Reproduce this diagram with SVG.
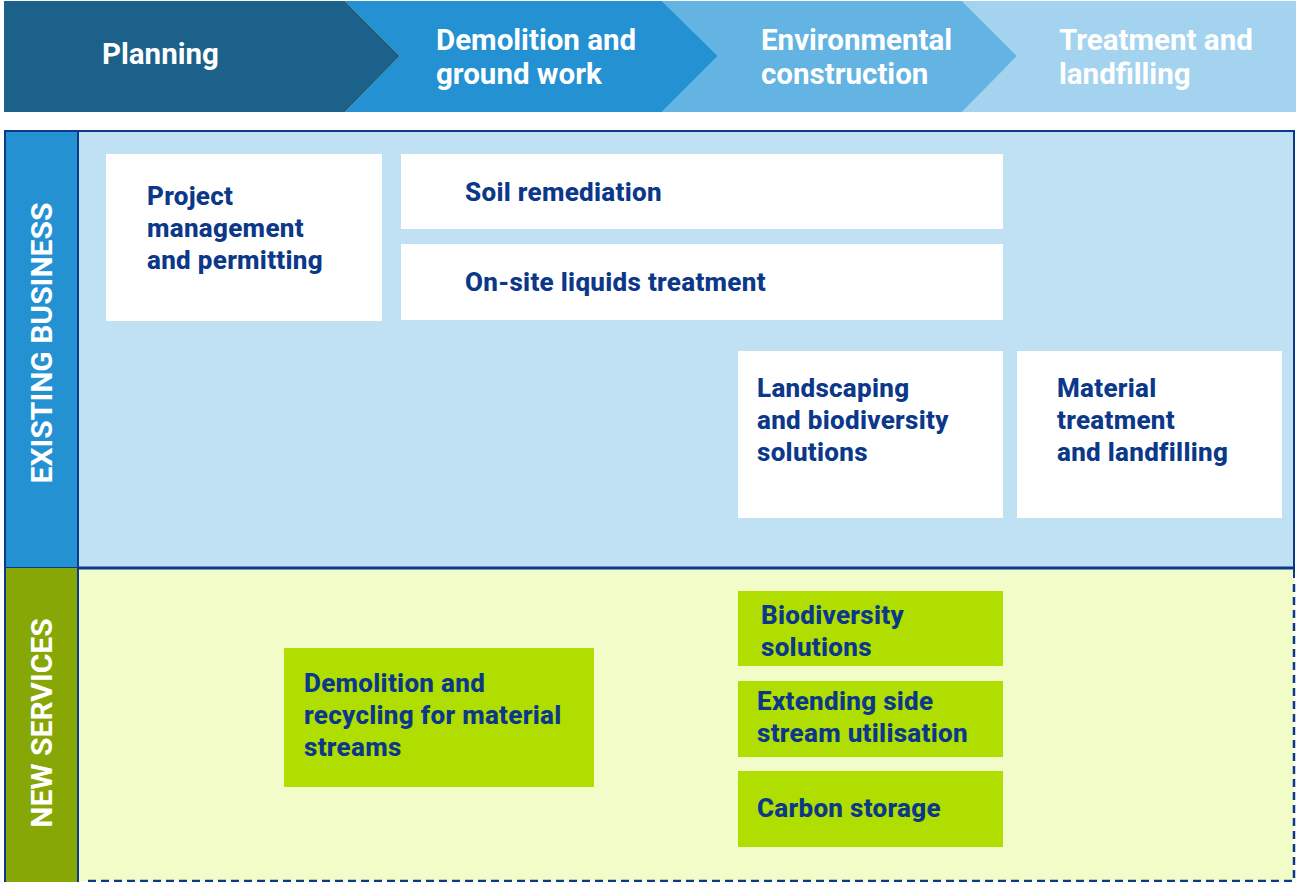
<svg xmlns="http://www.w3.org/2000/svg" width="1296" height="882" viewBox="0 0 1296 882">
<style>
.hd{font-family:Roboto,"Liberation Sans",sans-serif;font-weight:700;font-size:29.5px;fill:#ffffff}
.lb{font-family:Roboto,"Liberation Sans",sans-serif;font-weight:700;font-size:30px;fill:#ffffff}
.tx{font-family:Roboto,"Liberation Sans",sans-serif;font-weight:800;font-size:26px;letter-spacing:0.3px;fill:#0b3889}
.wb{fill:#ffffff}
.gb{fill:#b0de00}
</style>
<rect width="1296" height="882" fill="#ffffff"/>
<g id="header">
<polygon points="962,1 1296,1 1296,112 962,112 1017,56" fill="#a3d3ef"/>
<polygon points="662,1 962,1 1017,56 962,112 662,112 718,56" fill="#63b4e3"/>
<polygon points="345,1 662,1 718,56 662,112 345,112 400,56" fill="#2391d2"/>
<polygon points="4,1 345,1 400,56 345,112 4,112" fill="#1b618a"/>
<text class="hd" x="102" y="64">Planning</text>
<text class="hd" x="436" y="50">Demolition and</text>
<text class="hd" x="436" y="84">ground work</text>
<text class="hd" x="761" y="50">Environmental</text>
<text class="hd" x="761" y="84">construction</text>
<text class="hd" x="1059" y="50">Treatment and</text>
<text class="hd" x="1059" y="84">landfilling</text>
</g>
<g id="row-existing">
<rect x="78" y="131" width="1216" height="437" fill="#c0e0f4" stroke="#0b3a8a" stroke-width="2"/>
<rect x="5" y="131" width="73" height="437" fill="#2391d2" stroke="#0b3a8a" stroke-width="2"/>
<text class="lb" transform="translate(52,343) rotate(-90)" text-anchor="middle">EXISTING BUSINESS</text>
</g>
<g id="row-new">
<rect x="78" y="568" width="1216" height="313" fill="#f2fcc8"/>
<path d="M1294,568 V578" stroke="#0b3a8a" stroke-width="2"/>
<path d="M1294,584 V881 H88" fill="none" stroke="#0b3a8a" stroke-width="2.5" stroke-dasharray="8,5"/>
<line x1="78" y1="568" x2="1294" y2="568" stroke="#0b3a8a" stroke-width="3"/>
<rect x="5" y="568" width="73" height="314" fill="#86a706"/>
<path d="M5,568 V882 M78,568 V882" stroke="#0b3a8a" stroke-width="2"/>
<text class="lb" transform="translate(52,723) rotate(-90)" text-anchor="middle">NEW SERVICES</text>
</g>
<g id="project-management">
<rect class="wb" x="106" y="154" width="276" height="167"/>
<text class="tx" x="147" y="205">Project</text>
<text class="tx" x="147" y="237">management</text>
<text class="tx" x="147" y="269">and permitting</text>
</g>
<g id="soil-remediation">
<rect class="wb" x="401" y="154" width="602" height="75"/>
<text class="tx" x="465" y="201">Soil remediation</text>
</g>
<g id="onsite-liquids">
<rect class="wb" x="401" y="244" width="602" height="76"/>
<text class="tx" x="465" y="291">On-site liquids treatment</text>
</g>
<g id="landscaping">
<rect class="wb" x="738" y="351" width="265" height="167"/>
<text class="tx" x="757" y="397">Landscaping</text>
<text class="tx" x="757" y="429">and biodiversity</text>
<text class="tx" x="757" y="461">solutions</text>
</g>
<g id="material-treatment">
<rect class="wb" x="1017" y="351" width="265" height="167"/>
<text class="tx" x="1057" y="397">Material</text>
<text class="tx" x="1057" y="429">treatment</text>
<text class="tx" x="1057" y="461">and landfilling</text>
</g>
<g id="demolition-recycling">
<rect class="gb" x="284" y="648" width="310" height="139"/>
<text class="tx" x="304" y="692">Demolition and</text>
<text class="tx" x="304" y="724">recycling for material</text>
<text class="tx" x="304" y="756">streams</text>
</g>
<g id="biodiversity">
<rect class="gb" x="738" y="591" width="265" height="75"/>
<text class="tx" x="761" y="624">Biodiversity</text>
<text class="tx" x="761" y="656">solutions</text>
</g>
<g id="side-stream">
<rect class="gb" x="738" y="681" width="265" height="76"/>
<text class="tx" x="757" y="710">Extending side</text>
<text class="tx" x="757" y="742">stream utilisation</text>
</g>
<g id="carbon-storage">
<rect class="gb" x="738" y="771" width="265" height="76"/>
<text class="tx" x="757" y="817">Carbon storage</text>
</g>
<g id="connectors"></g>
</svg>
